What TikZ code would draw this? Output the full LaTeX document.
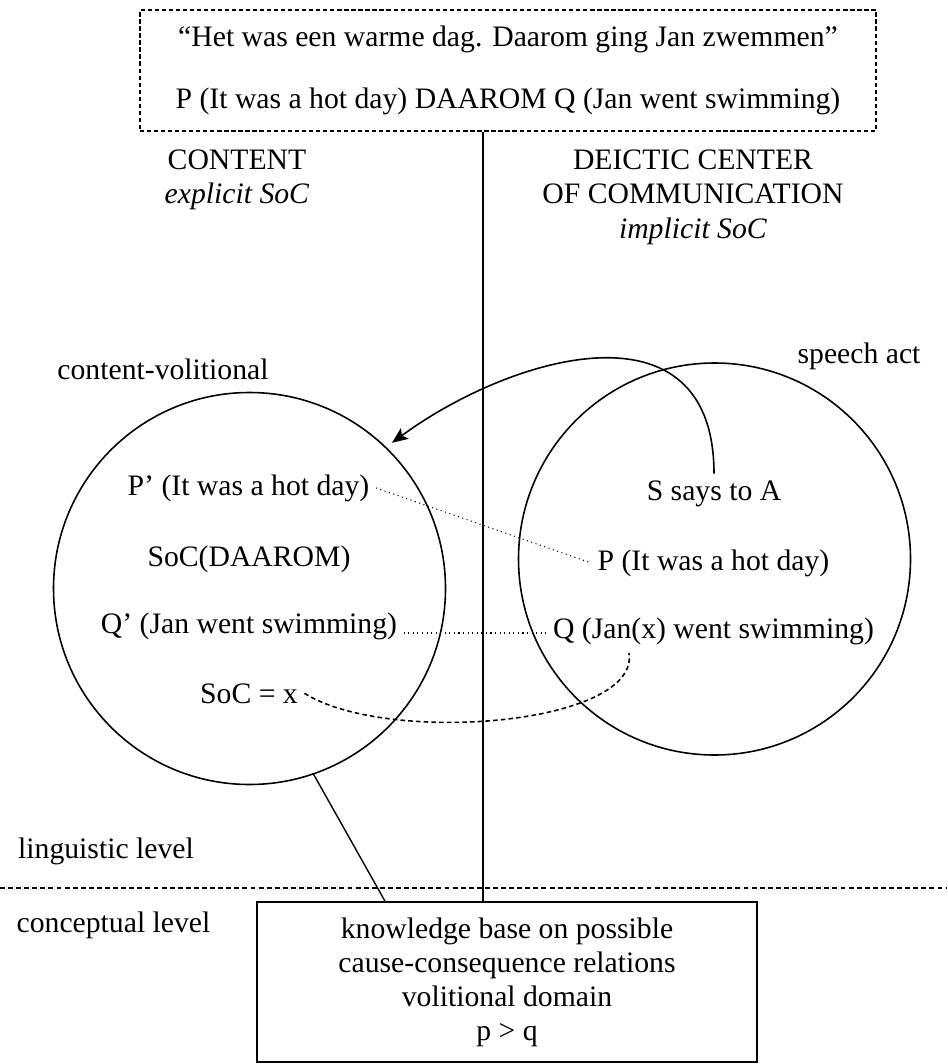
\documentclass[tikz,border=0pt]{standalone}
\usepackage{fontspec}
\setmainfont{Liberation Serif}
\usetikzlibrary{arrows.meta}

\tikzset{
  txt/.style={anchor=base},
  ring/.style={circle, draw, inner sep=0pt, outer sep=0pt},
  sentbox/.style={draw, line width=0.7pt, dash pattern=on 2.4pt off 1.6pt, align=center},
  kbbox/.style={draw, align=center},
  divider/.style={line width=0.9pt, dash pattern=on 2.8pt off 1.8pt},
  link/.style={line width=0.6pt, dotted},
  bind/.style={line width=0.9pt, dash pattern=on 2.6pt off 1.8pt}
}

\begin{document}
\begin{tikzpicture}[x=0.02cm, y=-0.02cm, line width=0.9pt,
    font=\fontsize{16.9}{19.4}\selectfont]

  % Parameters
  \def\px{0.02cm}
  \def\rad{196}
  \def\ax{483}
  \useasboundingbox (0,0) rectangle (947,1064);

  % sentence on top
  \node[sentbox, minimum width=736*\px, minimum height=121*\px] (sent) at (508,70.5)
    {“Het was een warme dag. Daarom ging Jan zwemmen”\\[15.5pt]
     P (It was a hot day) DAAROM Q (Jan went swimming)};

  % headings (base = last line)
  \node[txt, align=center] (conthead) at (237,204) {CONTENT\\\textit{explicit SoC}};
  \node[txt, align=center] (deichead) at (693,238) {DEICTIC CENTER\\OF COMMUNICATION\\\textit{implicit SoC}};

  % the two circles
  \node[ring, minimum size=2*\rad*\px] (content) at (249.5,588.5) {};
  \node[ring, minimum size=2*\rad*\px] (speech) at (714.5,559) {};
  \node[txt] (contlbl) at (163,379) {content-volitional};
  \node[txt] (speechlbl) at (859,363) {speech act};

  % inside content-volitional
  \node[txt] (pc) at (248.5,495) {P’ (It was a hot day)};
  \node[txt] (socd) at (249,566) {SoC(DAAROM)};
  \node[txt] (qc) at (249,633) {Q’ (Jan went swimming)};
  \node[txt] (socx) at (249,703) {SoC = x};

  % inside speech act
  \node[txt] (says) at (714,500) {S says to A};
  \node[txt] (p) at (713.5,570) {P (It was a hot day)};
  \node[txt] (q) at (713.5,638) {Q (Jan(x) went swimming)};
  \coordinate (xvar) at (629,653);

  % levels
  \draw[divider] (0,888) -- (947,888);
  \node[txt] (ling) at (106,858) {linguistic level};
  \node[txt] (conc) at (113.5,932) {conceptual level};

  % knowledge base
  \node[kbbox, minimum width=500*\px, minimum height=160*\px] (kbox) at (507,982)
    {knowledge base on possible\\cause-consequence relations\\volitional domain\\p > q};

  % axis between content and deictic center
  \coordinate (axis) at (\ax,0);
  \draw (sent.south -| axis) -- (kbox.north -| axis);

  % connectors
  \draw[-{Stealth[length=9pt,width=7.5pt,inset=2pt]}, shorten >=4.5pt]
    (says.north) .. controls +(0,-178) and +(125,-92) .. (content.46);
  \draw[link] (pc.east) -- (p.west);
  \draw[link] (qc.base east) -- (qc.base east -| q.west);
  \draw[bind] (socx.east) .. controls +(83,52) and +(11,72) .. (xvar);
  \draw[line width=0.8pt] (content.-71) -- ([xshift=-2.44cm]kbox.north);

\end{tikzpicture}
\end{document}
